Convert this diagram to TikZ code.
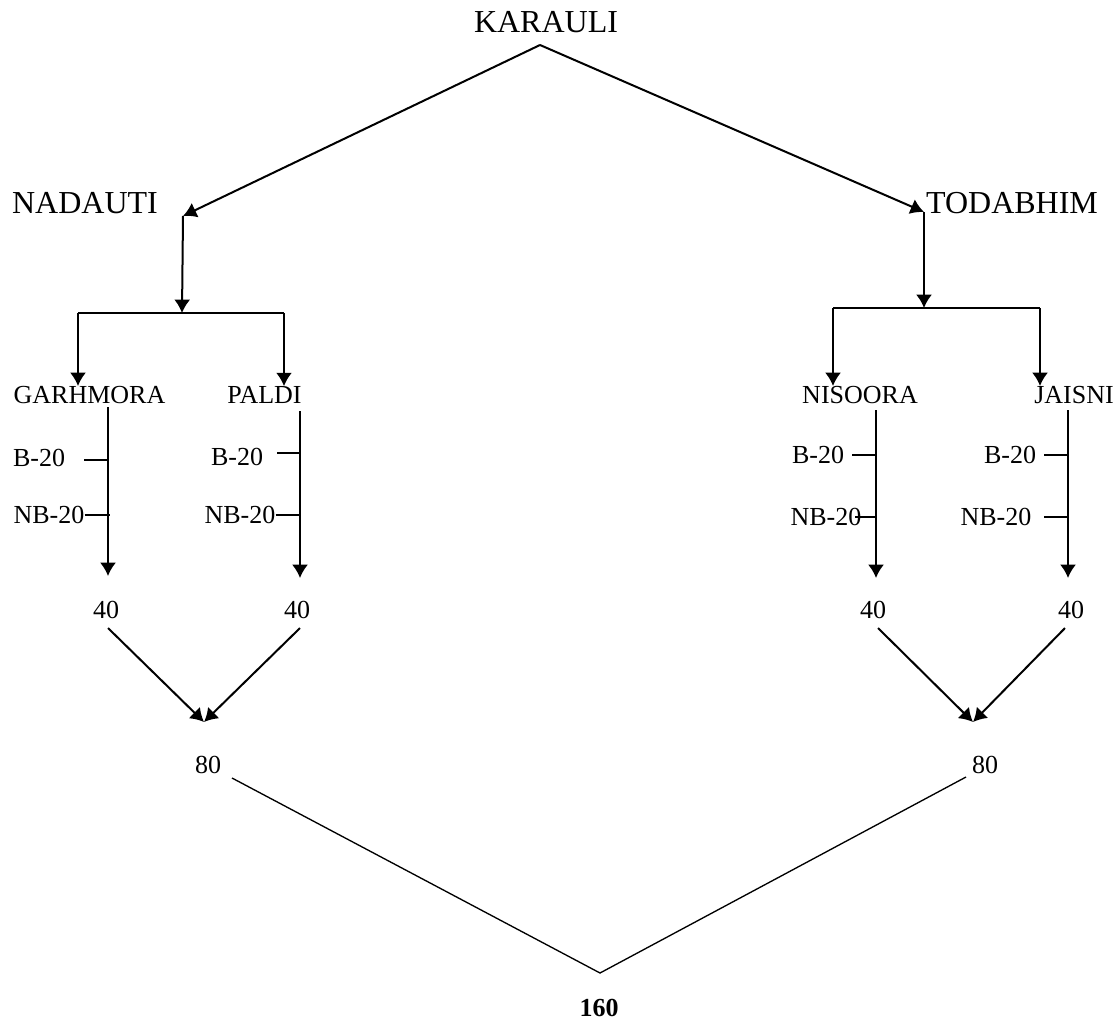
\documentclass[tikz,border=0pt]{standalone}
\usepackage{fontspec}
\setmainfont{Liberation Serif}
\usetikzlibrary{arrows.meta}

\begin{document}
\begin{tikzpicture}[x=0.75pt, y=-0.75pt]
        \tikzstyle{every node}=[inner sep=0pt, font=\fontsize{19.5}{22}\selectfont]
        \tikzstyle{big}=[font=\fontsize{24}{28}\selectfont]
        \tikzstyle{arr}=[-{Latex[length=10pt, width=12pt]}, line width=1.5pt]
        \tikzstyle{tickline}=[line width=1.1pt]
        \tikzstyle{sumline}=[line width=1pt]

        \useasboundingbox (0,0) rectangle (1119,1020);

        % district and blocks
        \node[big] (karauli)  at (546,22)  {KARAULI};
        \node[big] (nadauti)  at (85,203)  {NADAUTI};
        \node[big] (todabhim) at (1012,203) {TODABHIM};

        % villages
        \node (garhmora) at (89.5,395) {GARHMORA};
        \node (paldi)    at (264.5,395) {PALDI};
        \node (nisoora)  at (860,395)  {NISOORA};
        \node (jaisni)   at (1074,395) {JAISNI};

        % B / NB labels
        \node (gB)  at (39,458)  {B-20};
        \node (gNB) at (49,515)  {NB-20};
        \node (pB)  at (237,457) {B-20};
        \node (pNB) at (240,515) {NB-20};
        \node (nB)  at (818,455) {B-20};
        \node (nNB) at (826,517) {NB-20};
        \node (jB)  at (1010,455) {B-20};
        \node (jNB) at (996,517) {NB-20};

        % totals
        \node (g40) at (106,610) {40};
        \node (p40) at (297,610) {40};
        \node (n40) at (873,610) {40};
        \node (j40) at (1071,610) {40};
        \node (l80) at (208,765) {80};
        \node (r80) at (985,765) {80};
        \node (total) at (599,1008) {\textbf{160}};

        \coordinate (apex)   at (540,45);
        \coordinate (nadIn)  at (183,216);
        \coordinate (todIn)  at (924,212);
        \coordinate (nadFork) at (182,313);
        \coordinate (todFork) at (924,308);
        \coordinate (garTop) at (78,313);
        \coordinate (palTop) at (284,313);
        \coordinate (nisTop) at (833,308);
        \coordinate (jaiTop) at (1040,308);

        \coordinate (gS) at (108,407);  \coordinate (gE) at (108,576);
        \coordinate (pS) at (300,411);  \coordinate (pE) at (300,578);
        \coordinate (nS) at (876,410);  \coordinate (nE) at (876,578);
        \coordinate (jS) at (1068,410); \coordinate (jE) at (1068,578);

        \coordinate (lIn) at (204,722);
        \coordinate (rIn) at (973,722);
        \coordinate (bottom) at (600,973);

        \draw[arr] (apex) -- (nadIn);
        \draw[arr] (apex) -- (todIn);
        \draw[arr] (nadIn) -- (nadFork);
        \draw[arr] (todIn) -- (todFork);

        \draw[line width=1.5pt] (garTop) -- (palTop);
        \draw[line width=1.5pt] (nisTop) -- (jaiTop);
        \draw[arr] (garTop) -- (garTop |- garhmora.north);
        \draw[arr] (palTop) -- (palTop |- paldi.north);
        \draw[arr] (nisTop) -- (nisTop |- nisoora.north);
        \draw[arr] (jaiTop) -- (jaiTop |- jaisni.north);

        \draw[arr] (gS) -- (gE);
        \draw[arr] (pS) -- (pE);
        \draw[arr] (nS) -- (nE);
        \draw[arr] (jS) -- (jE);

        \draw[tickline] (84,460) -- (gS |- 0,460);
        \draw[tickline] (gNB.east) -- (110,515);
        \draw[tickline] (277,453) -- (pS |- 0,453);
        \draw[tickline] (pNB.east) -- (pS |- 0,515);
        \draw[tickline] (852,455) -- (nS |- 0,455);
        \draw[tickline] (855,517) -- (nS |- 0,517);
        \draw[tickline] (1044,455) -- (jS |- 0,455);
        \draw[tickline] (1044,517) -- (jS |- 0,517);

        \draw[arr] (g40.south) ++(2,9) -- (lIn);
        \draw[arr] (p40.south) ++(3,9) -- (lIn);
        \draw[arr] (n40.south) ++(5,9) -- (rIn);
        \draw[arr] (j40.south) ++(-6,9) -- (rIn);

        \draw[sumline] (232,778) -- (bottom) -- (966,777);
    \end{tikzpicture}
\end{document}
